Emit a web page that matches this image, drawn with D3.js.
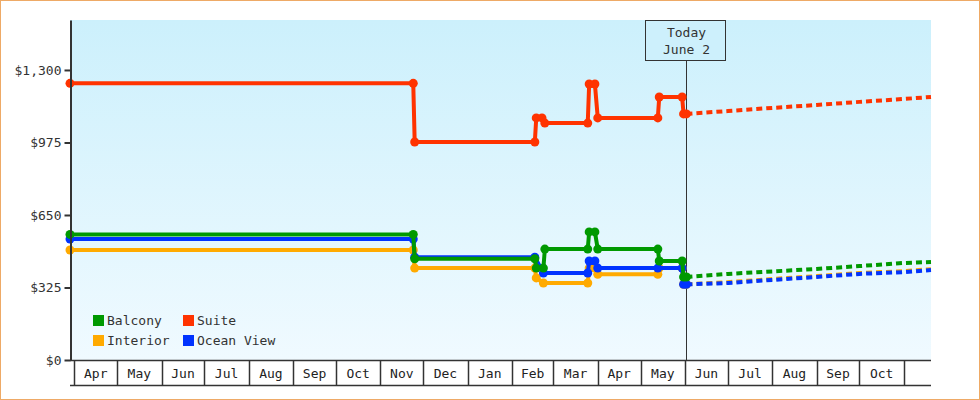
<!DOCTYPE html>
<html>
<head>
<meta charset="utf-8">
<script src="https://cdn.jsdelivr.net/npm/d3@7"></script>
<style>
body { margin: 0; background: #fff; }
svg { display: block; font-family: "DejaVu Sans Mono", monospace; }
</style>
</head>
<body>
<svg id="chart"></svg>
<script>
// price history per cabin type: [date, price]
const interiorHistory = [
  ['2023-03-29', 493], ['2023-11-24', 493], ['2023-11-25', 412], ['2024-02-17', 412],
  ['2024-02-18', 368], ['2024-02-23', 345], ['2024-03-25', 345], ['2024-03-26', 412],
  ['2024-03-30', 412], ['2024-04-01', 384], ['2024-05-13', 384], ['2024-05-14', 412],
  ['2024-05-30', 412], ['2024-05-31', 339], ['2024-06-02', 339]
];
const oceanViewHistory = [
  ['2023-03-29', 542], ['2023-11-24', 542], ['2023-11-25', 461], ['2024-02-17', 461],
  ['2024-02-23', 390], ['2024-03-25', 390], ['2024-03-26', 444], ['2024-03-30', 444],
  ['2024-04-01', 412], ['2024-05-13', 412], ['2024-05-30', 412], ['2024-05-31', 339],
  ['2024-06-02', 339]
];
const balconyHistory = [
  ['2023-03-29', 563], ['2023-11-24', 563], ['2023-11-25', 454], ['2024-02-17', 454],
  ['2024-02-18', 412], ['2024-02-23', 412], ['2024-02-24', 497], ['2024-03-25', 497],
  ['2024-03-26', 574], ['2024-03-30', 574], ['2024-04-01', 497], ['2024-05-13', 497],
  ['2024-05-14', 444], ['2024-05-30', 444], ['2024-05-31', 372], ['2024-06-02', 372]
];
const suiteHistory = [
  ['2023-03-29', 1240], ['2023-11-24', 1240], ['2023-11-25', 977], ['2024-02-17', 977],
  ['2024-02-18', 1085], ['2024-02-22', 1085], ['2024-02-24', 1062], ['2024-03-25', 1062],
  ['2024-03-26', 1237], ['2024-03-30', 1237], ['2024-04-01', 1085], ['2024-05-13', 1085],
  ['2024-05-14', 1179], ['2024-05-30', 1179], ['2024-05-31', 1103], ['2024-06-02', 1103]
];

// forecast after today
const forecastDates = ['2024-06-02', '2024-07-01', '2024-08-01', '2024-09-01', '2024-10-01', '2024-11-01', '2024-11-20'];
const interiorForecast = [339, 349, 363, 376, 390, 398, 407];
const oceanViewForecast = [339, 345, 359, 372, 386, 394, 403];
const balconyForecast = [372, 386, 397, 408, 421, 435, 439];
const suiteForecast = [1103, 1116, 1130, 1143, 1157, 1170, 1179];

const yTicks = [0, 325, 650, 975, 1300];
const legendNames = ['Balcony', 'Interior', 'Suite', 'Ocean View'];
const today = '2024-06-02';
const todayLabel = ['Today', 'June 2'];

const colors = {
  'Balcony': '#009900',
  'Interior': '#ffaa00',
  'Suite': '#ff3300',
  'Ocean View': '#0033ff'
};

const parse = d3.timeParse('%Y-%m-%d');

const series = [
  {name: 'Interior', history: interiorHistory, forecast: interiorForecast},
  {name: 'Ocean View', history: oceanViewHistory, forecast: oceanViewForecast},
  {name: 'Balcony', history: balconyHistory, forecast: balconyForecast},
  {name: 'Suite', history: suiteHistory, forecast: suiteForecast}
];

const W = 980, H = 400;
const plot = {left: 70, right: 931, top: 20, bottom: 360};

const svg = d3.select('#chart')
  .attr('width', W)
  .attr('height', H);

svg.append('rect')
  .attr('x', 0.5).attr('y', 0.5)
  .attr('width', W - 1).attr('height', H - 1)
  .attr('fill', '#fff')
  .attr('stroke', '#eeaa66');

const grad = svg.append('defs').append('linearGradient')
  .attr('id', 'bg')
  .attr('x1', 0).attr('y1', 0).attr('x2', 0).attr('y2', 1);
grad.append('stop').attr('offset', '0%').attr('stop-color', '#ccf0fc');
grad.append('stop').attr('offset', '100%').attr('stop-color', '#f0faff');

svg.append('rect')
  .attr('x', plot.left).attr('y', plot.top)
  .attr('width', plot.right - plot.left)
  .attr('height', plot.bottom - plot.top)
  .attr('fill', 'url(#bg)');

const x = d3.scaleTime()
  .domain([parse('2023-03-29'), parse('2024-11-20')])
  .range([plot.left, plot.right]);

const y = d3.scaleLinear()
  .domain([0, 1524])
  .range([plot.bottom, plot.top]);

// today marker line
const tx = Math.floor(x(parse(today))) + 0.5;
svg.append('line')
  .attr('x1', tx).attr('x2', tx)
  .attr('y1', 60).attr('y2', plot.bottom)
  .attr('stroke', '#333')
  .attr('stroke-width', 1);

const line = d3.line()
  .x(d => x(d.date))
  .y(d => y(d.price));

series.forEach(s => {
  const hist = s.history.map(d => ({date: parse(d[0]), price: d[1]}));
  const fc = forecastDates.map((d, i) => ({date: parse(d), price: s.forecast[i]}));
  const c = colors[s.name];

  svg.append('path')
    .datum(fc)
    .attr('fill', 'none')
    .attr('stroke', c)
    .attr('stroke-width', 4)
    .attr('stroke-dasharray', '6,4')
    .attr('d', line);

  svg.append('path')
    .datum(hist)
    .attr('fill', 'none')
    .attr('stroke', c)
    .attr('stroke-width', 4)
    .attr('stroke-linejoin', 'round')
    .attr('d', line);

  svg.append('g')
    .selectAll('circle')
    .data(hist)
    .enter()
    .append('circle')
    .attr('cx', d => x(d.date))
    .attr('cy', d => y(d.price))
    .attr('r', 4.5)
    .attr('fill', c);
});

// y axis
const yAxis = svg.append('g')
  .attr('transform', `translate(${plot.left + 0.5}, 0)`)
  .call(d3.axisLeft(y).tickValues(yTicks).tickFormat(d3.format('$,')).tickSize(6).tickSizeOuter(0).tickPadding(3));
yAxis.attr('font-family', null).attr('font-size', null);
yAxis.select('.domain').attr('stroke', '#333').attr('stroke-width', 2);
yAxis.selectAll('.tick line').attr('stroke', '#333').attr('stroke-width', 2);
yAxis.selectAll('.tick text').attr('fill', '#333').style('font-size', '13px');

// month boxes along the bottom
const months = d3.timeMonths(parse('2023-04-01'), parse('2024-11-02'));
const fmt = d3.timeFormat('%b');
const boxTop = 360.5, boxBottom = 385.5;

svg.append('line')
  .attr('x1', plot.left).attr('x2', plot.right)
  .attr('y1', boxTop).attr('y2', boxTop)
  .attr('stroke', '#333').attr('stroke-width', 1.5);
svg.append('line')
  .attr('x1', plot.left).attr('x2', plot.right)
  .attr('y1', boxBottom).attr('y2', boxBottom)
  .attr('stroke', '#333').attr('stroke-width', 1.5);

svg.append('g')
  .selectAll('line')
  .data(months)
  .enter()
  .append('line')
  .attr('x1', d => Math.round(x(d)) + 0.5)
  .attr('x2', d => Math.round(x(d)) + 0.5)
  .attr('y1', boxTop).attr('y2', boxBottom)
  .attr('stroke', '#333').attr('stroke-width', 1.5);

svg.append('g')
  .selectAll('text')
  .data(months.slice(0, -1))
  .enter()
  .append('text')
  .attr('x', d => (x(d) + x(d3.timeMonth.offset(d, 1))) / 2)
  .attr('y', 378)
  .attr('text-anchor', 'middle')
  .attr('fill', '#222')
  .style('font-size', '13px')
  .text(d => fmt(d));

// legend
const legend = svg.append('g');
legendNames.forEach((name, i) => {
  const lx = 93 + Math.floor(i / 2) * 90;
  const ly = 315 + (i % 2) * 20;
  legend.append('rect')
    .attr('x', lx).attr('y', ly)
    .attr('width', 11).attr('height', 11)
    .attr('fill', colors[name]);
  legend.append('text')
    .attr('x', lx + 14)
    .attr('y', ly + 10)
    .attr('fill', '#333')
    .style('font-size', '13px')
    .text(name);
});

// today box
svg.append('rect')
  .attr('x', 645.5).attr('y', 20.5)
  .attr('width', 80).attr('height', 40)
  .attr('fill', '#cdf0fc')
  .attr('stroke', '#333');
todayLabel.forEach((t, i) => {
  svg.append('text')
    .attr('x', tx)
    .attr('y', 37 + i * 17)
    .attr('text-anchor', 'middle')
    .attr('fill', '#333')
    .style('font-size', '13px')
    .text(t);
});
</script>
</body>
</html>
